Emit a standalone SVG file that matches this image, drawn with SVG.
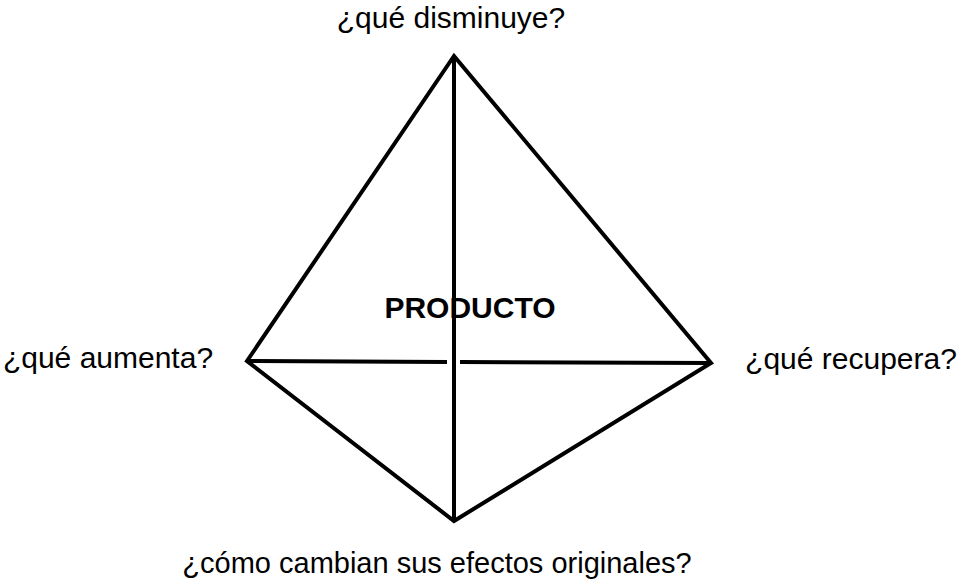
<svg xmlns="http://www.w3.org/2000/svg" width="960" height="581" viewBox="0 0 960 581">
<style>
.edge{fill:none;stroke:#000;stroke-width:4;stroke-linejoin:miter;stroke-miterlimit:10}
.lbl{font-family:"Liberation Sans",Arial,sans-serif;font-size:30px;fill:#000}
.title{font-family:"Liberation Sans",Arial,sans-serif;font-size:30px;font-weight:bold;fill:#000}
</style>
<rect width="960" height="581" fill="#fff"/>
<g id="connectors">
<polygon class="edge" points="454,56 711,363 454,521 247,361"/>
<line class="edge" x1="454" y1="56" x2="454" y2="521"/>
<line class="edge" x1="247" y1="361" x2="447" y2="361.9"/>
<line class="edge" x1="460" y1="362" x2="711" y2="363"/>
</g>
<g id="node-producto"><text class="title" x="470" y="318" text-anchor="middle">PRODUCTO</text></g>
<g id="node-disminuye"><text class="lbl" x="451" y="28" text-anchor="middle">¿qué disminuye?</text></g>
<g id="node-aumenta"><text class="lbl" x="108" y="368" text-anchor="middle">¿qué aumenta?</text></g>
<g id="node-recupera"><text class="lbl" x="851" y="369" text-anchor="middle">¿qué recupera?</text></g>
<g id="node-efectos"><text class="lbl" x="437" y="573" text-anchor="middle" style="font-size:29px">¿cómo cambian sus efectos originales?</text></g>
</svg>
